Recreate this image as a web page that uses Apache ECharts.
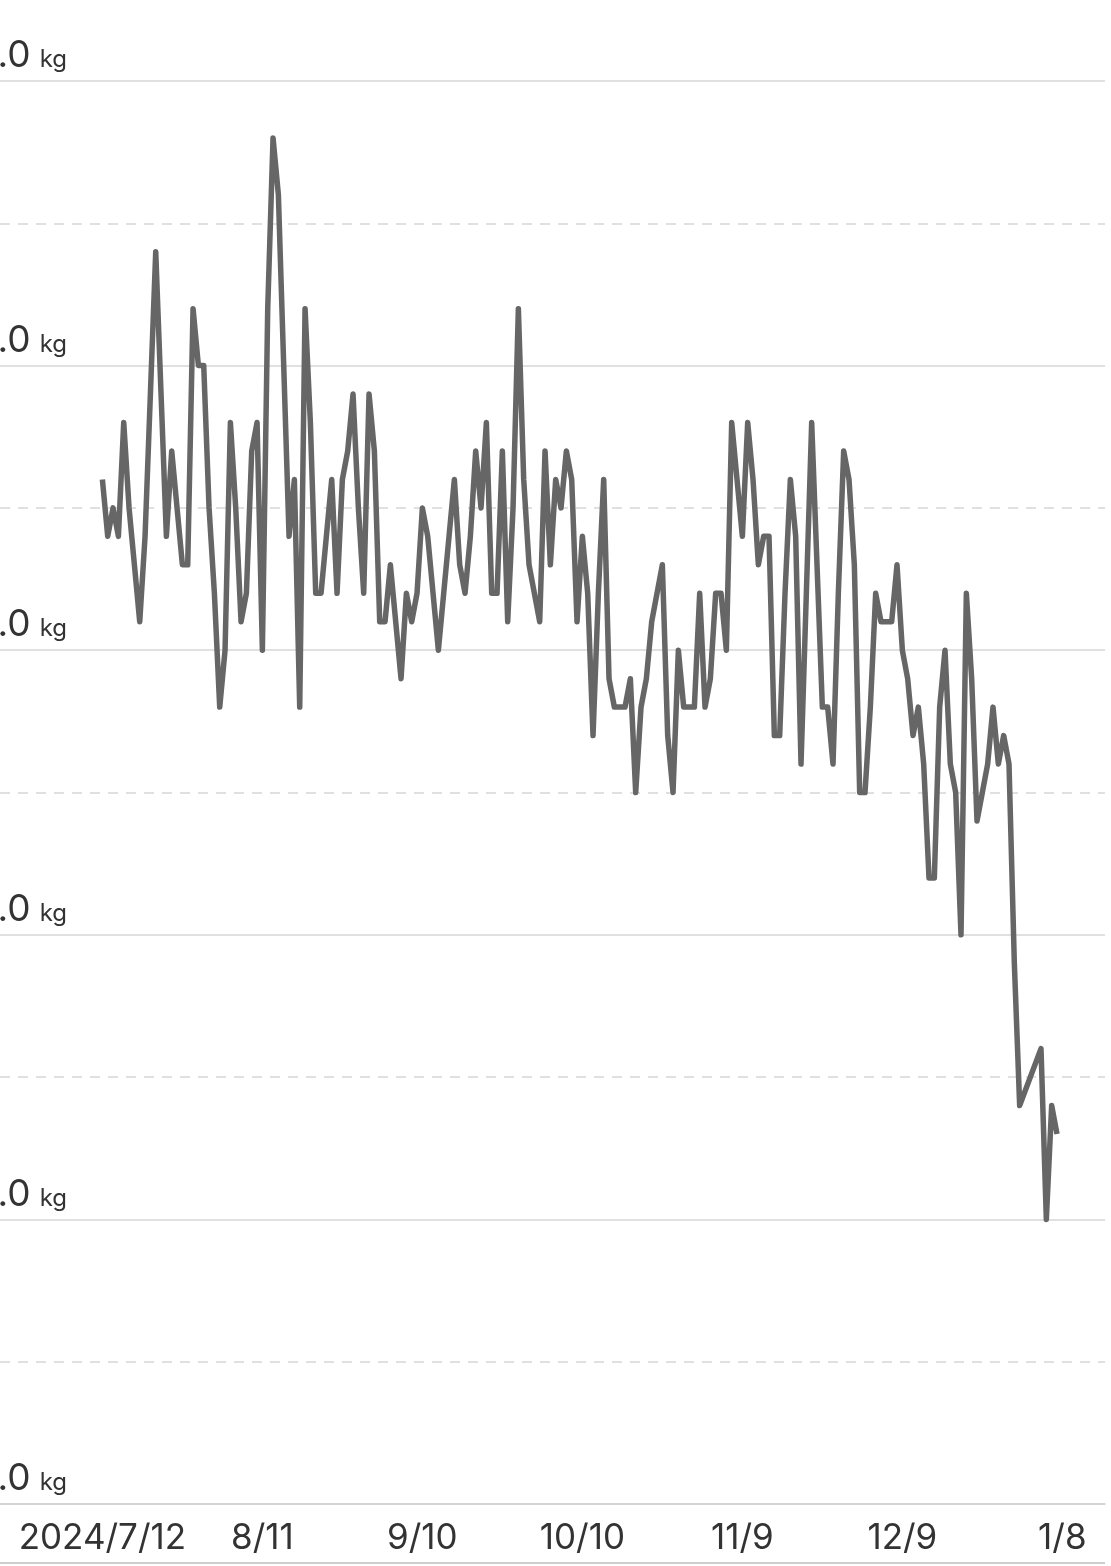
<!DOCTYPE html>
<html>
<head>
<meta charset="utf-8">
<style>
html,body{margin:0;padding:0;background:#fff;}
#chart{width:1111px;height:1566px;}
</style>
<script src="https://cdn.jsdelivr.net/npm/echarts@6/dist/echarts.min.js"></script>
</head>
<body>
<div id="chart"></div>
<script>
// Day 0 = 2024/7/12, one value per day (null = no record that day)
const weights = [
  63.6, 63.4, 63.5, 63.4, 63.8, 63.5, 63.3, 63.1, 63.4, 63.9,
  64.4, 63.9, 63.4, 63.7, 63.5, 63.3, 63.3, 64.2, 64.0, 64.0,
  63.5, 63.2, 62.8, 63.0, 63.8, 63.5, 63.1, 63.2, 63.7, 63.8,
  63.0, 64.2, 64.8, 64.6, 64.0, 63.4, 63.6, 62.8, 64.2, 63.8,
  63.2, 63.2, 63.4, 63.6, 63.2, 63.6, 63.7, 63.9, 63.5, 63.2,
  63.9, 63.7, 63.1, 63.1, 63.3, 63.1, 62.9, 63.2, 63.1, 63.2,
  63.5, 63.4, 63.2, 63.0, 63.2, 63.4, 63.6, 63.3, 63.2, 63.4,
  63.7, 63.5, 63.8, 63.2, 63.2, 63.7, 63.1, 63.5, 64.2, 63.6,
  63.3, 63.2, 63.1, 63.7, 63.3, 63.6, 63.5, 63.7, 63.6, 63.1,
  63.4, 63.2, 62.7, 63.2, 63.6, 62.9, 62.8, 62.8, 62.8, 62.9,
  62.5, 62.8, 62.9, 63.1, 63.2, 63.3, 62.7, 62.5, 63.0, 62.8,
  62.8, 62.8, 63.2, 62.8, 62.9, 63.2, 63.2, 63.0, 63.8, 63.6,
  63.4, 63.8, 63.6, 63.3, 63.4, 63.4, 62.7, 62.7, 63.2, 63.6,
  63.4, 62.6, 63.2, 63.8, 63.3, 62.8, 62.8, 62.6, 63.2, 63.7,
  63.6, 63.3, 62.5, 62.5, 62.8, 63.2, 63.1, 63.1, 63.1, 63.3,
  63.0, 62.9, 62.7, 62.8, 62.6, 62.2, 62.2, 62.8, 63.0, 62.6,
  62.5, 62.0, 63.2, 62.9, 62.4, 62.5, 62.6, 62.8, 62.6, 62.7,
  62.6, 61.9, 61.4, null, null, null, 61.6, 61.0, 61.4, 61.3
];
const tickLabels = ['2024/7/12', '8/11', '9/10', '10/10', '11/9', '12/9', '1/8'];
const tickDays = [0, 30, 60, 90, 120, 150, 180];
const yMin = 60, yMax = 65, yStep = 1;
const unit = 'kg';

const seriesData = [];
weights.forEach((w, i) => { if (w !== null) seriesData.push([i, w]); });

const chart = echarts.init(document.getElementById('chart'), null, {renderer: 'canvas'});
chart.setOption({
  backgroundColor: '#ffffff',
  animation: false,
  grid: {left: 0, right: 6, top: 81, bottom: 62, containLabel: false, outerBoundsMode: 'none'},
  xAxis: {
    type: 'value',
    min: -19.2,
    max: 188,
    axisLine: {show: true, lineStyle: {color: '#cfcfcf', width: 1.5}},
    axisTick: {show: false},
    splitLine: {show: false},
    axisLabel: {
      customValues: tickDays,
      margin: 17,
      color: '#333333',
      fontSize: 35,
      fontFamily: 'Inter',
      formatter: v => {
        const idx = tickDays.indexOf(Math.round(v));
        return idx >= 0 ? tickLabels[idx] : '';
      }
    }
  },
  yAxis: {
    type: 'value',
    min: yMin,
    max: yMax,
    interval: yStep,
    axisLine: {show: false},
    axisTick: {show: false},
    minorTick: {show: false, splitNumber: 2},
    splitLine: {show: true, lineStyle: {color: '#d6d6d6', width: 1.5}},
    minorSplitLine: {show: true, lineStyle: {color: '#d6d6d6', width: 1.5, type: [10, 8]}},
    axisLabel: {
      inside: true,
      margin: 67,
      align: 'right',
      verticalAlign: 'bottom',
      padding: [0, 0, 3, 0],
      color: '#333333',
      fontFamily: 'Inter',
      formatter: v => '{n|' + v.toFixed(1) + '}{u|' + unit + '}',
      rich: {
        n: {fontSize: 37, color: '#333333', fontFamily: 'Inter', lineHeight: 44},
        u: {fontSize: 24, color: '#333333', fontFamily: 'Inter', lineHeight: 44, padding: [8, 0, 0, 9]}
      }
    }
  },
  graphic: [{
    type: 'line',
    shape: {x1: 0, y1: 1563, x2: 1105, y2: 1563},
    style: {stroke: '#bdbdbd', lineWidth: 1.5}
  }],
  series: [{
    type: 'line',
    data: seriesData,
    showSymbol: false,
    symbol: 'none',
    connectNulls: true,
    lineStyle: {color: '#666666', width: 5.5, join: 'round'},
    clip: false
  }]
});
</script>
</body>
</html>
